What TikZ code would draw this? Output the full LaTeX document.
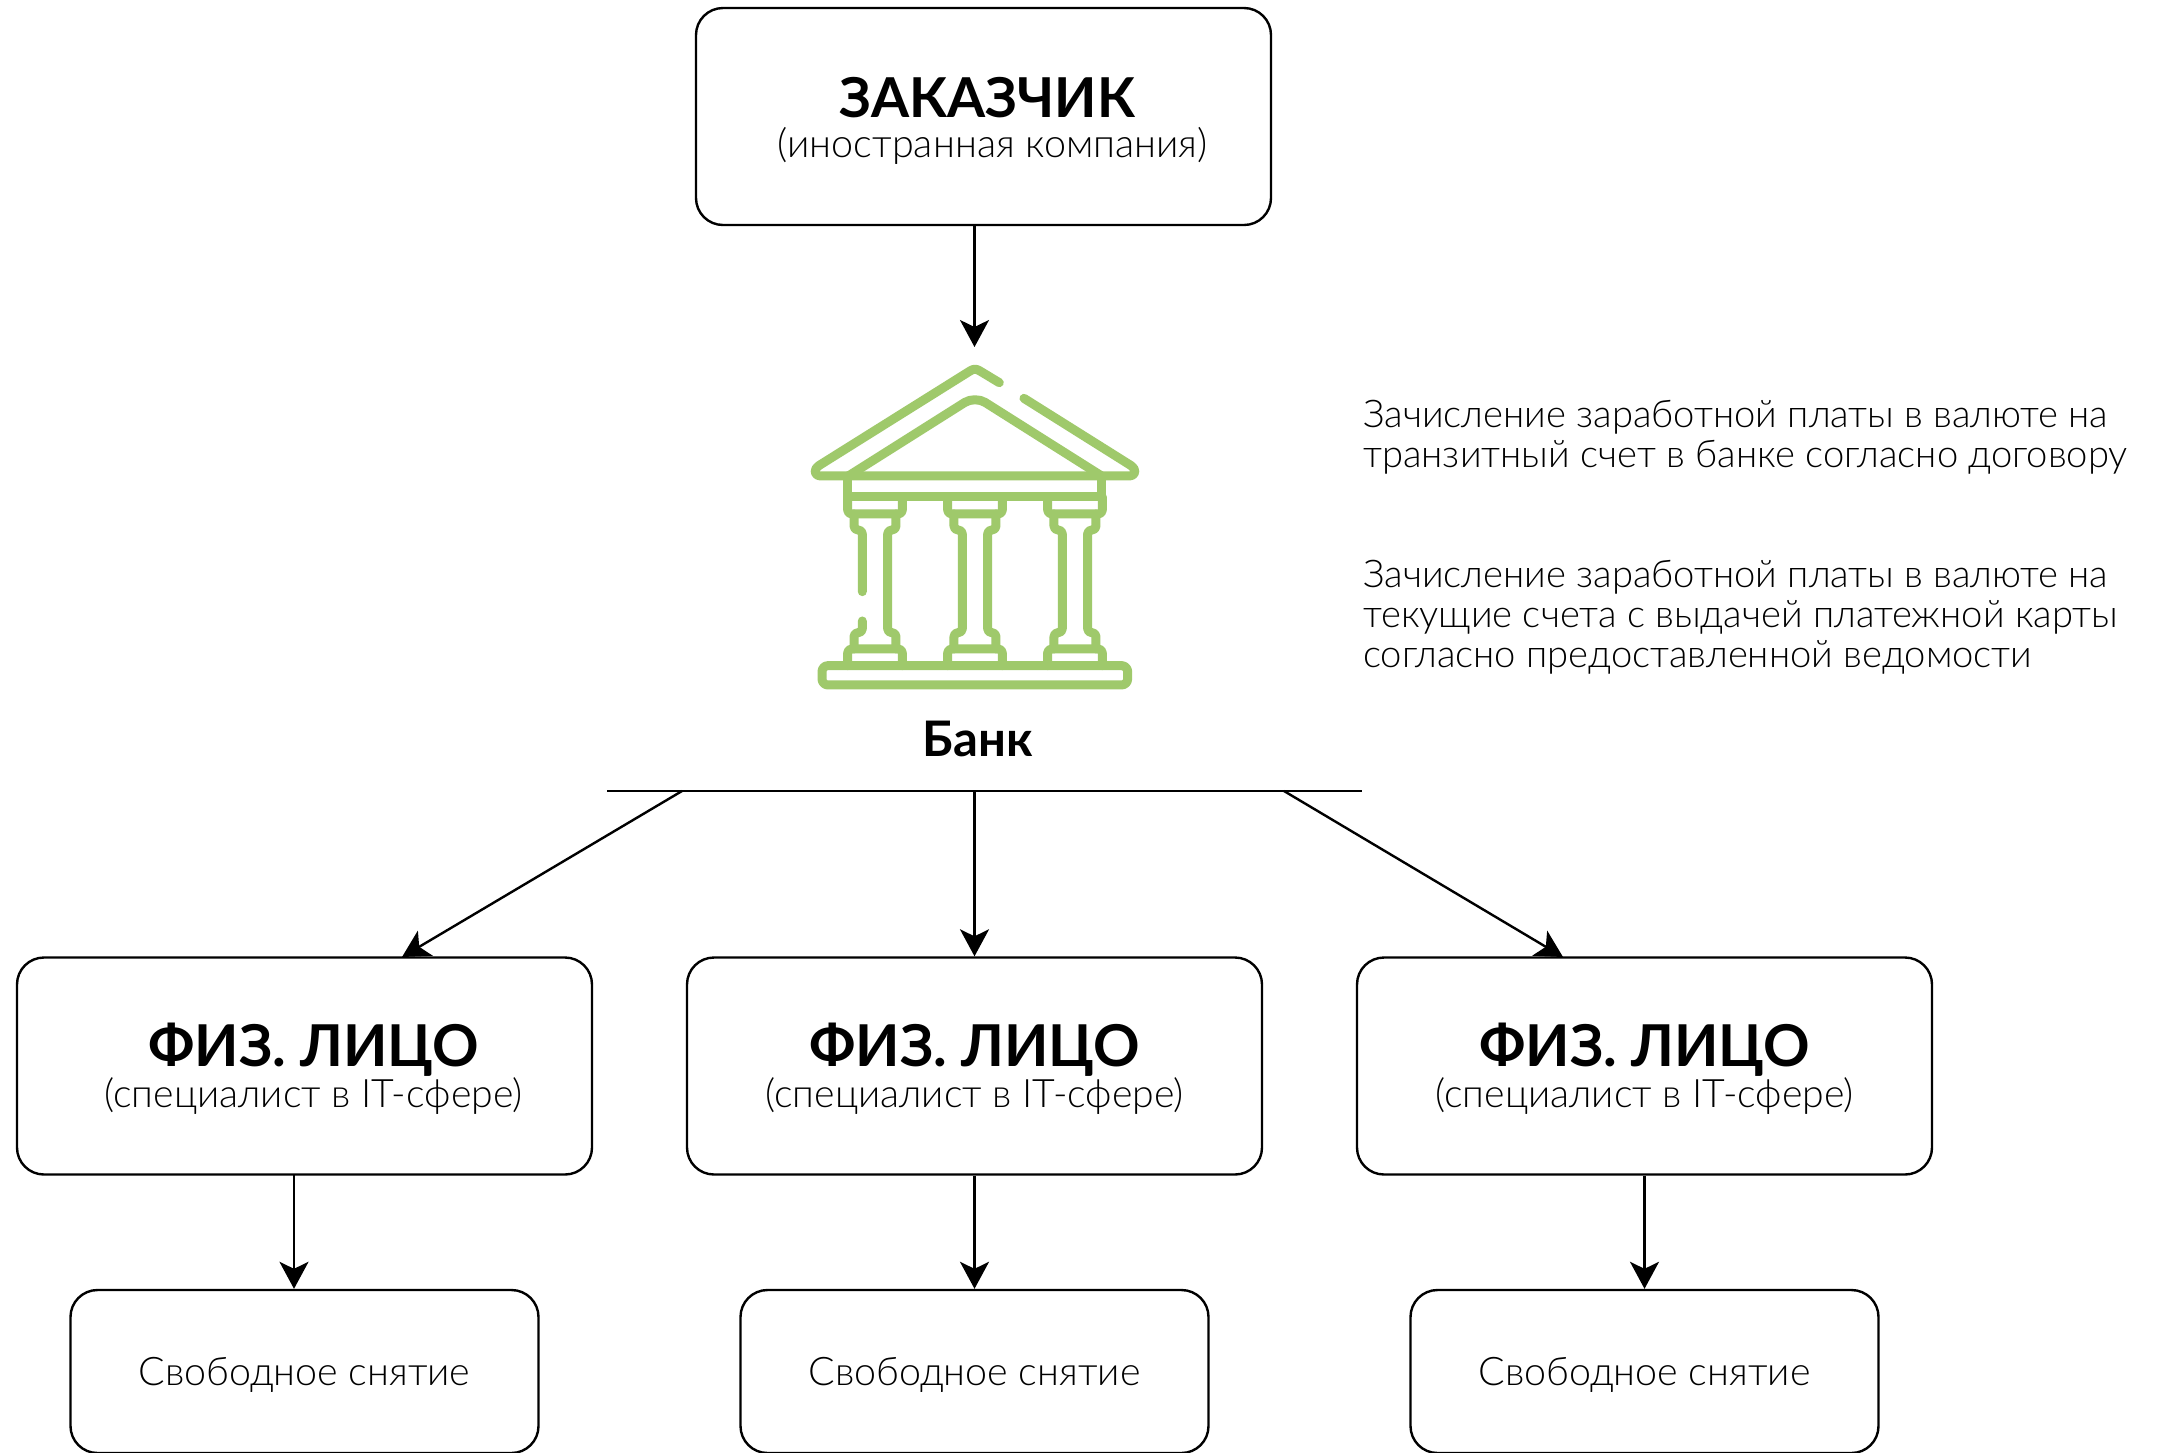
\documentclass[tikz,border=0pt]{standalone}
\usepackage{fontspec}
\setmainfont{Lato}
\newfontfamily\lightf{Lato Light}
\usetikzlibrary{arrows.meta}
\definecolor{leaf}{HTML}{9FC96B}
\definecolor{ink}{HTML}{000000}
\newcommand{\ttl}[5]{\rule{0pt}{49pt}\fontsize{#3}{#3}\selectfont\bfseries #1\\[#5]\fontsize{#4}{39}\selectfont\lightf\mdseries #2}
\tikzset{
  x=1pt,y=-1pt,
  card/.style={draw=ink,line width=2.4pt,rounded corners=27pt,fill=white,inner sep=0pt,align=center,text=ink},
  bigcard/.style={card,minimum width=575pt,minimum height=217pt},
  smallcard/.style={card,minimum width=468pt,minimum height=163pt,font=\fontsize{39.4}{39}\selectfont\lightf},
  flow/.style={draw=ink,line width=2.4pt,-{Stealth[length=27pt,width=29pt,inset=7pt]}},
  plain/.style={draw=ink,line width=2.4pt},
  note/.style={anchor=base west,inner sep=0pt,align=left,text=ink,font=\fontsize{38.2}{40}\selectfont\lightf},
  ic/.style={draw=leaf,line width=9pt,line cap=round,line join=round,rounded corners=4.5pt}
}
\newcommand{\column}[1]{%
 \begin{scope}[shift={(#1,0)}]
 \draw[ic,rounded corners=4pt] (203,470)--(203,522)--(367,522)--(367,470);
 \draw[ic,rounded corners=4pt] (222,522)--(222,570)--(247,570)--(247,878)--(222,878)--(222,927);
 \draw[ic,rounded corners=4pt] (348,522)--(348,570)--(323,570)--(323,878)--(348,878)--(348,927);
 \draw[ic,rounded corners=4pt] (203,977)--(203,927)--(367,927)--(367,977);
 \end{scope}}
\begin{document}
\begin{tikzpicture}
\useasboundingbox (0,0) rectangle (2165,1452);
\fill[white] (0,0) rectangle (2165,1452);
\coordinate (barL) at (607,791);
\coordinate (barR) at (1362,791);
\coordinate (barA) at (682,791);
\coordinate (barB) at (974.5,791);
\coordinate (barC) at (1284,791);
\coordinate (bankTop) at (974.5,347);
\coordinate (t1) at (402,957);
\coordinate (t3) at (1563,957);
\node[bigcard] (top) at (983.5,116.5) {\hspace*{7.5pt}\ttl{ЗАКАЗЧИК}{\hspace*{18pt}(иностранная компания)}{55}{39.5}{9pt}};
\draw[flow] (top.south -| bankTop) -- (bankTop);
\draw[plain] (barL) -- (barR);
\draw[flow] (barA) -- (t1);
\draw[flow] (barC) -- (t3);
\node[bigcard] (f1) at (304.5,1066) {\hspace*{18pt}\ttl{ФИЗ. ЛИЦО}{\hspace*{18pt}(специалист в IT-сфере)}{57.7}{39.2}{1pt}};
\node[bigcard] (f2) at (974.5,1066) {\ttl{ФИЗ. ЛИЦО}{(специалист в IT-сфере)}{57.7}{39.2}{1pt}};
\node[bigcard] (f3) at (1644.5,1066) {\ttl{ФИЗ. ЛИЦО}{(специалист в IT-сфере)}{57.7}{39.2}{1pt}};
\draw[flow] (barB) -- (f2.north);
\node[smallcard] (s1) at (304.5,1371.5) {\rule{0pt}{34pt}Свободное снятие};
\node[smallcard] (s2) at (974.5,1371.5) {\rule{0pt}{34pt}Свободное снятие};
\node[smallcard] (s3) at (1644.5,1371.5) {\rule{0pt}{34pt}Свободное снятие};
\coordinate (a1) at (294,1175);
\draw[flow] (a1) -- (a1 |- s1.north);
\draw[flow] (f2.south) -- (s2.north);
\draw[flow] (f3.south) -- (s3.north);
\begin{scope}[shift={(780,340)},x=0.3333pt,y=-0.3333pt]
 \draw[ic,rounded corners=0pt] (658,128)--(600,93) .. controls (590,86) and (580,86) .. (570,93) -- (118,376) .. controls (98,390) and (102,408) .. (125,408) -- (1045,408) .. controls (1068,408) and (1072,390) .. (1052,376) -- (732,175);
 \draw[ic,rounded corners=12pt] (205,408)--(585,168)--(965,408);
 \draw[ic,rounded corners=0pt] (203,408)--(203,470)--(966,470)--(966,408);
 \draw[ic,rounded corners=4pt] (203,470)--(203,522)--(367,522)--(367,470);
 \draw[ic,rounded corners=4pt] (222,522)--(222,570)--(247,570)--(247,755);
 \draw[ic,rounded corners=4pt] (247,843)--(247,878)--(222,878)--(222,927);
 \draw[ic,rounded corners=4pt] (348,522)--(348,570)--(323,570)--(323,878)--(348,878)--(348,927);
 \draw[ic,rounded corners=4pt] (203,977)--(203,927)--(367,927)--(367,977);
 \column{300}
 \column{600}
 \draw[ic,rounded corners=6pt] (126,977) rectangle (1043,1035);
\end{scope}
\node[anchor=base,inner sep=0pt,text=ink,font=\fontsize{49}{49}\selectfont\bfseries] (bank) at (977.5,756.5) {Банк};
\node[note] (n1) at (1363,467) {Зачисление заработной платы в валюте на\\транзитный счет в банке согласно договору};
\node[note] (n2) at (1363,667) {Зачисление заработной платы в валюте на\\текущие счета с выдачей платежной карты\\согласно предоставленной ведомости};
\end{tikzpicture}
\end{document}
